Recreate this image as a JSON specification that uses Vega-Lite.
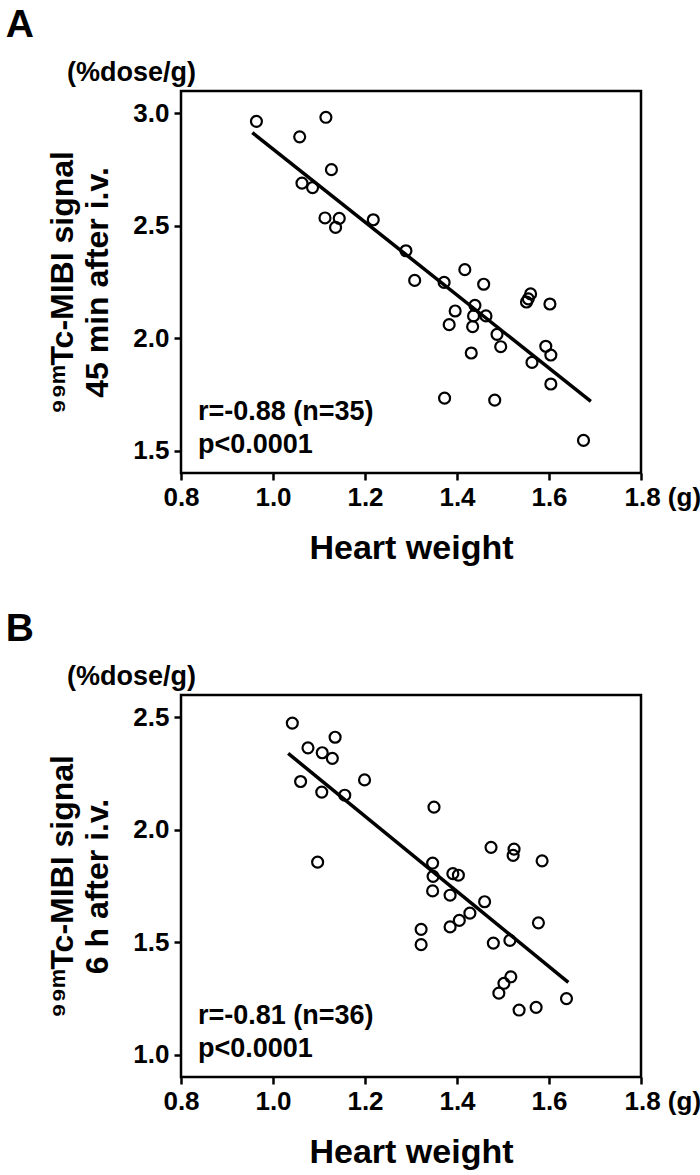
{
  "$schema": "https://vega.github.io/schema/vega-lite/v6.json",
  "background": "white",
  "padding": {"left": 4, "top": 4, "right": 0, "bottom": 0},
  "spacing": 41,
  "config": {
    "font": "Liberation Sans",
    "view": {"stroke": "black", "strokeWidth": 2.5},
    "axis": {
      "domain": false,
      "grid": false,
      "tickColor": "black",
      "tickWidth": 2.5,
      "tickSize": 7,
      "labelColor": "black",
      "labelFontSize": 26,
      "labelFontWeight": "bold",
      "labelFont": "Liberation Sans",
      "titleColor": "black",
      "titleFont": "Liberation Sans",
      "titleFontWeight": "bold",
      "labelOverlap": false,
      "labelFlush": false
    },
    "axisX": {"titleFontSize": 34, "labelPadding": 4, "titlePadding": 21},
    "axisY": {"titleFontSize": 32, "titleLineHeight": 35, "labelPadding": 5, "titlePadding": 18},
    "title": {"font": "Liberation Sans", "fontSize": 39, "fontWeight": "bold", "color": "black", "anchor": "start", "frame": "bounds", "offset": 14}
  },
  "vconcat": [
    {
      "title": {"text": "A", "dx": -41},
      "width": 460,
      "height": 382,
      "layer": [
        {
          "data": {"values": [
            {"w": 0.964, "s": 2.965}, {"w": 1.058, "s": 2.896}, {"w": 1.115, "s": 2.983}, {"w": 1.127, "s": 2.750},
            {"w": 1.063, "s": 2.690}, {"w": 1.086, "s": 2.670}, {"w": 1.113, "s": 2.535}, {"w": 1.144, "s": 2.533},
            {"w": 1.136, "s": 2.493}, {"w": 1.218, "s": 2.527}, {"w": 1.289, "s": 2.389}, {"w": 1.308, "s": 2.257},
            {"w": 1.372, "s": 2.248}, {"w": 1.417, "s": 2.305}, {"w": 1.458, "s": 2.240}, {"w": 1.396, "s": 2.121},
            {"w": 1.439, "s": 2.146}, {"w": 1.436, "s": 2.099}, {"w": 1.463, "s": 2.099}, {"w": 1.383, "s": 2.060},
            {"w": 1.434, "s": 2.051}, {"w": 1.560, "s": 2.197}, {"w": 1.551, "s": 2.161}, {"w": 1.555, "s": 2.175},
            {"w": 1.602, "s": 2.152}, {"w": 1.487, "s": 2.017}, {"w": 1.495, "s": 1.962}, {"w": 1.431, "s": 1.934},
            {"w": 1.593, "s": 1.964}, {"w": 1.604, "s": 1.925}, {"w": 1.563, "s": 1.892}, {"w": 1.604, "s": 1.796},
            {"w": 1.373, "s": 1.733}, {"w": 1.482, "s": 1.724}, {"w": 1.675, "s": 1.545}
          ]},
          "mark": {"type": "point", "shape": "circle", "filled": false, "stroke": "black", "strokeWidth": 2.2, "size": 120, "opacity": 1},
          "encoding": {
            "x": {"field": "w", "type": "quantitative", "scale": {"domain": [0.8, 1.8], "nice": false, "zero": false},
              "axis": {"title": "Heart weight", "values": [0.8, 1.0, 1.2, 1.4, 1.6, 1.8], "format": ".1f",
                "labelExpr": "datum.value > 1.7 ? '1.8 (g)' : datum.label",
                "labelAlign": {"condition": {"test": "datum.value > 1.7", "value": "left"}, "value": "center"},
                "labelOffset": {"condition": {"test": "datum.value > 1.7", "value": -17}, "value": 0}}},
            "y": {"field": "s", "type": "quantitative", "scale": {"domain": [1.4, 3.1], "nice": false, "zero": false},
              "axis": {"title": ["⁹⁹ᵐTc-MIBI signal", "45 min after i.v."], "values": [1.5, 2.0, 2.5, 3.0], "format": ".1f"}}
          }
        },
        {
          "data": {"values": [{"w": 0.955, "s": 2.915}, {"w": 1.691, "s": 1.719}]},
          "mark": {"type": "line", "color": "black", "strokeWidth": 3.5},
          "encoding": {"x": {"field": "w", "type": "quantitative"}, "y": {"field": "s", "type": "quantitative"}}
        },
        {
          "data": {"values": [{"w": 0.837, "s": 1.638, "t": "r=-0.88 (n=35)"}, {"w": 0.837, "s": 1.487, "t": "p<0.0001"}]},
          "mark": {"type": "text", "align": "left", "baseline": "alphabetic", "fontSize": 27, "fontWeight": "bold", "color": "black"},
          "encoding": {"x": {"field": "w", "type": "quantitative"}, "y": {"field": "s", "type": "quantitative"}, "text": {"field": "t"}}
        },
        {
          "data": {"values": [{"w": 0.8, "s": 3.1, "t": "(%dose/g)"}]},
          "mark": {"type": "text", "align": "right", "baseline": "alphabetic", "dx": 15, "dy": -10, "fontSize": 27, "fontWeight": "bold", "color": "black"},
          "encoding": {"x": {"field": "w", "type": "quantitative"}, "y": {"field": "s", "type": "quantitative"}, "text": {"field": "t"}}
        }
      ]
    },
    {
      "title": {"text": "B", "dx": -41},
      "width": 460,
      "height": 382,
      "layer": [
        {
          "data": {"values": [
            {"w": 1.042, "s": 2.475}, {"w": 1.135, "s": 2.412}, {"w": 1.076, "s": 2.365}, {"w": 1.107, "s": 2.343},
            {"w": 1.129, "s": 2.318}, {"w": 1.060, "s": 2.215}, {"w": 1.199, "s": 2.222}, {"w": 1.106, "s": 2.168},
            {"w": 1.156, "s": 2.154}, {"w": 1.350, "s": 2.101}, {"w": 1.097, "s": 1.856}, {"w": 1.474, "s": 1.922},
            {"w": 1.524, "s": 1.914}, {"w": 1.522, "s": 1.886}, {"w": 1.585, "s": 1.862}, {"w": 1.347, "s": 1.852},
            {"w": 1.348, "s": 1.793}, {"w": 1.391, "s": 1.805}, {"w": 1.403, "s": 1.798}, {"w": 1.347, "s": 1.728},
            {"w": 1.385, "s": 1.709}, {"w": 1.460, "s": 1.680}, {"w": 1.428, "s": 1.629}, {"w": 1.405, "s": 1.597},
            {"w": 1.385, "s": 1.568}, {"w": 1.322, "s": 1.557}, {"w": 1.322, "s": 1.489}, {"w": 1.577, "s": 1.586},
            {"w": 1.479, "s": 1.496}, {"w": 1.515, "s": 1.508}, {"w": 1.517, "s": 1.346}, {"w": 1.502, "s": 1.317},
            {"w": 1.491, "s": 1.273}, {"w": 1.535, "s": 1.198}, {"w": 1.572, "s": 1.210}, {"w": 1.638, "s": 1.249}
          ]},
          "mark": {"type": "point", "shape": "circle", "filled": false, "stroke": "black", "strokeWidth": 2.2, "size": 120, "opacity": 1},
          "encoding": {
            "x": {"field": "w", "type": "quantitative", "scale": {"domain": [0.8, 1.8], "nice": false, "zero": false},
              "axis": {"title": "Heart weight", "values": [0.8, 1.0, 1.2, 1.4, 1.6, 1.8], "format": ".1f",
                "labelExpr": "datum.value > 1.7 ? '1.8 (g)' : datum.label",
                "labelAlign": {"condition": {"test": "datum.value > 1.7", "value": "left"}, "value": "center"},
                "labelOffset": {"condition": {"test": "datum.value > 1.7", "value": -17}, "value": 0}}},
            "y": {"field": "s", "type": "quantitative", "scale": {"domain": [0.9, 2.6], "nice": false, "zero": false},
              "axis": {"title": ["⁹⁹ᵐTc-MIBI signal", "6 h after i.v."], "values": [1.0, 1.5, 2.0, 2.5], "format": ".1f"}}
          }
        },
        {
          "data": {"values": [{"w": 1.033, "s": 2.340}, {"w": 1.642, "s": 1.321}]},
          "mark": {"type": "line", "color": "black", "strokeWidth": 3.5},
          "encoding": {"x": {"field": "w", "type": "quantitative"}, "y": {"field": "s", "type": "quantitative"}}
        },
        {
          "data": {"values": [{"w": 0.837, "s": 1.138, "t": "r=-0.81 (n=36)"}, {"w": 0.837, "s": 0.987, "t": "p<0.0001"}]},
          "mark": {"type": "text", "align": "left", "baseline": "alphabetic", "fontSize": 27, "fontWeight": "bold", "color": "black"},
          "encoding": {"x": {"field": "w", "type": "quantitative"}, "y": {"field": "s", "type": "quantitative"}, "text": {"field": "t"}}
        },
        {
          "data": {"values": [{"w": 0.8, "s": 2.6, "t": "(%dose/g)"}]},
          "mark": {"type": "text", "align": "right", "baseline": "alphabetic", "dx": 15, "dy": -10, "fontSize": 27, "fontWeight": "bold", "color": "black"},
          "encoding": {"x": {"field": "w", "type": "quantitative"}, "y": {"field": "s", "type": "quantitative"}, "text": {"field": "t"}}
        }
      ]
    }
  ]
}
